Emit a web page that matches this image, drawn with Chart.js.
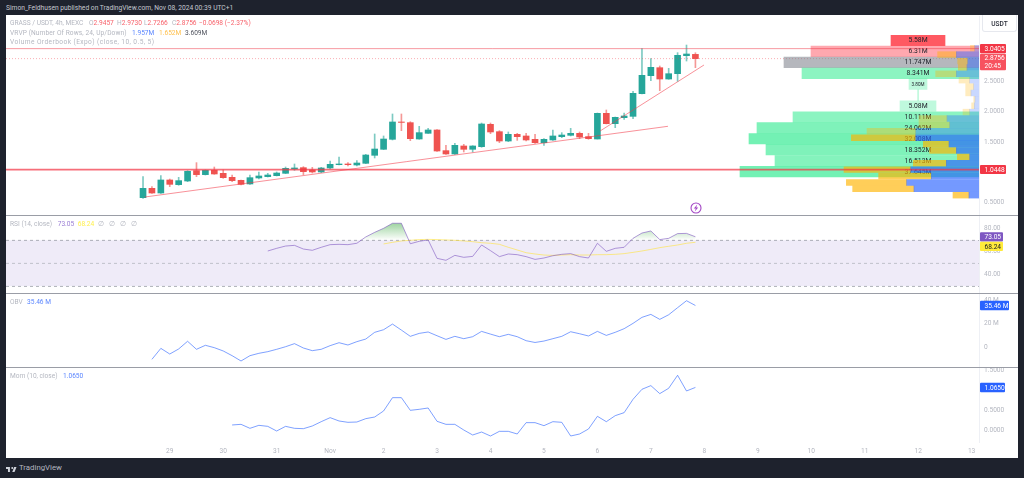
<!DOCTYPE html>
<html><head><meta charset="utf-8">
<script src="https://cdn.jsdelivr.net/npm/chart.js@4"></script>
<style>
html,body{margin:0;padding:0;width:1024px;height:478px;overflow:hidden;background:#1e222d;font-family:Roboto,"Liberation Sans",sans-serif}
#stage{position:absolute;left:0;top:0;width:1024px;height:478px;background:#1e222d;filter:blur(.28px)}
#panel{position:absolute;left:6px;top:15px;width:1012px;height:443px;background:#fff}
canvas{position:absolute}
.sep{position:absolute;left:6px;width:1012px;height:1px;background:#9a9da6}
.t{position:absolute;white-space:nowrap;font-size:6.6px;line-height:10px;height:10px;color:#b4b7c0}
.r{color:#f7626b}.b{color:#5b86ff}.y{color:#ffc04d}.d{color:#50535e}.p{color:#9a7ed4}.ye{color:#fff04d}
</style></head><body>
<div id="stage">
<div id="panel"></div>
<canvas id="cMain"></canvas><canvas id="cBook"></canvas><canvas id="cRsi"></canvas><canvas id="cObv"></canvas><canvas id="cMom"></canvas>
<div class="sep" style="top:215px"></div><div class="sep" style="top:293px"></div><div class="sep" style="top:367px"></div>
<div class="t" style="left:6px;top:3px;font-size:6.7px;color:#c4c7cf">Simon_Feldhusen published on TradingView.com, Nov 08, 2024 00:39 UTC+1</div>
<div class="t" style="left:10px;top:18px">GRASS / USDT, 4h, MEXC</div>
<div class="t" style="left:89px;top:18px">O<span class="r">2.9457</span></div>
<div class="t" style="left:117px;top:18px">H<span class="r">2.9730</span></div>
<div class="t" style="left:144px;top:18px">L<span class="r">2.7266</span></div>
<div class="t" style="left:172px;top:18px">C<span class="r">2.8756</span></div>
<div class="t r" style="left:199px;top:18px">−0.0698 (−2.37%)</div>
<div class="t" style="left:10px;top:27.6px;letter-spacing:.1px">VRVP (Number Of Rows, 24, Up/Down)</div>
<div class="t b" style="left:132px;top:27.6px">1.957M</div>
<div class="t y" style="left:159px;top:27.6px">1.652M</div>
<div class="t d" style="left:185px;top:27.6px">3.609M</div>
<div class="t" style="left:10px;top:37px;letter-spacing:.42px">Volume Orderbook (Expo) (close, 10, 0.5, 5)</div>
<div class="t" style="left:10px;top:219px">RSI (14, close)</div>
<div class="t p" style="left:57.7px;top:219px">73.05</div>
<div class="t ye" style="left:77.7px;top:219px">68.24</div>
<div class="t" style="left:98px;top:219px">∅</div><div class="t" style="left:109px;top:219px">∅</div><div class="t" style="left:120px;top:219px">∅</div><div class="t" style="left:131px;top:219px">∅</div>
<div class="t" style="left:10px;top:296.7px">OBV</div>
<div class="t b" style="left:27px;top:296.7px">35.46 M</div>
<div class="t" style="left:10px;top:371px">Mom (10, close)</div>
<div class="t b" style="left:63px;top:371px">1.0650</div>
<div style="position:absolute;left:982px;top:15px;width:33px;height:16px;border:1px solid #e6e8ee;border-top:none;border-radius:0 0 3px 3px;box-sizing:content-box"></div>
<div class="t" style="left:982px;width:35px;text-align:center;top:19px;color:#2a2e39;font-weight:500">USDT</div>
<svg style="position:absolute;left:689.7px;top:202px" width="12" height="12" viewBox="0 0 12 12"><circle cx="6" cy="6" r="5" fill="#fff" stroke="#a347c4" stroke-width="1.1"/><path d="M7.3 2.6 3.8 6.5h2L4.8 9.4l3.4-4H6.2z" fill="#a347c4"/></svg>
<svg style="position:absolute;left:6px;top:465.5px" width="10.5" height="7" viewBox="2 6 32 15"><path fill="#d1d4dc" d="M14 6H2v6h6v9h6V6Zm14 15h-7l6-15h7l-6 15Zm-7-9a3 3 0 1 0 0-6 3 3 0 0 0 0 6Z"/></svg>
<div class="t" style="left:19px;top:463px;font-size:7.8px;color:#b4b7c0">TradingView</div>
</div>
<script>
// ---- candles (4h), oldest first ----
const candleOpen=[0.581,0.735,0.658,0.873,0.796,0.856,1.027,0.961,1.032,0.983,0.917,0.867,0.807,0.906,0.928,0.944,0.983,1.054,1.076,1.038,1.005,1.071,1.126,1.137,1.120,1.148,1.280,1.379,1.544,1.830,1.819,1.549,1.643,1.698,1.357,1.302,1.434,1.379,1.423,1.791,1.670,1.516,1.626,1.599,1.544,1.489,1.533,1.588,1.610,1.643,1.588,1.549,1.973,1.802,1.901,1.923,2.297,2.594,2.726,2.539,2.627,2.924,2.9457];
const candleHigh=[0.928,0.763,0.944,0.889,0.917,1.027,1.159,1.038,1.087,1.038,0.955,0.873,0.955,1.005,0.983,1.005,1.087,1.137,1.093,1.082,1.082,1.186,1.252,1.159,1.192,1.296,1.632,1.599,1.962,1.962,1.835,1.758,1.725,1.703,1.445,1.478,1.461,1.439,1.813,1.813,1.687,1.665,1.643,1.643,1.626,1.555,1.698,1.654,1.725,1.665,1.643,1.978,2.028,1.912,1.978,2.336,3.040,2.875,2.754,2.715,2.974,3.100,2.9730];
const candleLow=[0.570,0.653,0.650,0.763,0.785,0.845,0.928,0.955,0.966,0.900,0.845,0.790,0.801,0.889,0.922,0.939,0.977,1.032,0.961,0.988,0.994,1.054,1.120,1.104,1.104,1.142,1.236,1.374,1.533,1.687,1.522,1.545,1.640,1.346,1.296,1.296,1.335,1.335,1.412,1.637,1.489,1.505,1.527,1.516,1.478,1.445,1.527,1.571,1.599,1.555,1.544,1.549,1.797,1.736,1.874,1.885,2.292,2.512,2.347,2.534,2.501,2.836,2.7266];
const candleClose=[0.735,0.658,0.873,0.801,0.862,1.016,0.961,1.032,0.972,0.911,0.862,0.801,0.911,0.939,0.955,0.988,1.065,1.071,1.010,1.005,1.071,1.131,1.137,1.126,1.153,1.285,1.384,1.549,1.830,1.823,1.555,1.654,1.698,1.351,1.302,1.445,1.379,1.434,1.797,1.665,1.516,1.626,1.588,1.533,1.489,1.544,1.599,1.615,1.643,1.582,1.555,1.973,1.802,1.907,1.929,2.303,2.600,2.732,2.539,2.627,2.930,2.952,2.8756];
// ---- indicators ----
const rsiStartIndex=14;
const rsiValues=[60.7,63,65,65.6,62.4,61.3,63.9,66.2,66.5,66.2,67.4,72.9,76.9,80.4,84.8,84.8,67,69.1,70.3,54.3,52.6,56.9,55.2,56,65.9,61,55.8,58.1,57.5,55.8,53.4,54.6,56.6,57.8,58.4,55.8,54.6,67.4,60.4,63,63.9,71.7,76.3,78.1,70.6,71.7,75.8,76,73.05];
const rsiMaStartIndex=27;
const rsiMaValues=[66.8,68.2,69.4,70,70.6,70.8,70.6,70.3,70,69.4,68.8,67.9,67.4,66.5,63.9,61.6,59.2,58.1,57.2,56.9,57.2,57.5,57.2,57.2,57.5,57.5,57.8,58.4,59.5,60.7,62.1,63.6,64.8,65.9,67.4,68.24];
const obvStartIndex=1;
const obvValues=[-10.2,-0.9,-5.7,-1.4,5.1,-1.7,1.7,-0.3,-3.1,-7.1,-11.6,-7.1,-5.1,-3.7,-1.7,0.5,3.1,-0.6,-2.85,-1.7,1.4,3.9,1.95,4.8,7,12.7,14.9,19.7,14.6,9.3,11.8,13,9.8,6.7,9.3,7.3,9,13.5,11.2,9,11,9,5.6,4.1,5.3,7.3,9.3,13.2,11.5,9.6,13.5,10.1,12.7,15.8,20.3,25.4,27.9,23.7,27.6,33.6,39.5,35.46];
const momStartIndex=10;
const momValues=[0.132,0.148,0.049,0.123,0.098,-0.018,0.098,0.049,0.040,0.107,0.214,0.314,0.231,0.198,0.206,0.289,0.330,0.480,0.811,0.811,0.496,0.521,0.554,0.223,0.148,0.148,0.007,-0.117,-0.043,-0.142,-0.026,-0.026,-0.092,0.190,0.190,0.115,0.214,0.198,-0.142,-0.092,0.032,0.347,0.214,0.364,0.438,0.770,1.019,1.110,0.911,1.044,1.367,0.977,1.065];
// ---- drawings ----
const trendOne=[[0.2,0.592],[58.92,1.759]];
const trendTwo=[[51.3,1.681],[62.96,2.770]];
const levelHigh=3.0405, levelLast=2.8756, levelLow=1.0448;
// ---- axes ----
const dayTickIndex=[3,9,15,21,27,33,39,45,51,57,63,69,75,81,87,93];
const dayTickLabels=['29','30','31','Nov','2','3','4','5','6','7','8','9','10','11','12','13'];
const priceTicks=[0.5,1.5,2,2.5], rsiTicks=[40,60,80], obvTicks=[0,20,40], momTicks=[0,0.5,1.5];
// ---- volume profile rows ----
const vrvpPrice=[3.047,2.942,2.836,2.731,2.625,2.520,2.414,2.309,2.204,2.098,1.993,1.887,1.782,1.676,1.571,1.466,1.360,1.255,1.149,1.044,0.938,0.833,0.727,0.622];
const vrvpUp=[1.08,5.67,2.83,3.0,5.67,2.33,1.33,2.0,1.0,1.17,2.33,8.0,7.33,15.83,15.83,7.5,5.67,2.33,8.17,17.08,11.92,18.08,16.25,2.5];
const vrvpDown=[1.08,4.67,2.5,2.17,5.17,2.67,2.0,1.33,0.33,0.67,1.67,7.0,7.67,12.17,16.08,6.42,6.67,3.08,8.25,16.67,13.17,15.08,15.33,4.0];
const vrvpStrength=[.3,.45,.45,.45,.35,.25,.25,.25,.25,.25,.25,.35,.35,.35,.65,.65,.65,.65,.65,.65,.65,.65,.65,.65];
// ---- order book rows ----
const bookPrice=[3.175,2.995,2.815,2.633,2.454,2.274,2.094,1.912,1.732,1.553,1.373,1.191,1.011];
const bookLabels=['5.58M','6.31M','11.747M','8.341M','3.80M','','5.08M','10.111M','24.062M','32.008M','18.352M','16.513M','37.645M'];
const bookStart=[8.5,0,0,0,13,15.1,10.75,0,0,0,0,0,0];
const bookEnd=[22,42,48.75,44.25,17.5,15.35,19.75,46.5,55.5,57.5,53.25,51,59.75];
const bookColors=['rgba(255,60,70,.85)','rgba(255,82,96,.5)','rgba(120,123,134,.55)','rgba(0,230,118,.45)','rgba(0,230,118,.25)','rgba(0,230,118,.25)','rgba(0,230,118,.25)','rgba(0,230,118,.45)','rgba(0,230,118,.5)','rgba(0,230,118,.55)','rgba(0,230,118,.5)','rgba(0,230,118,.48)','rgba(0,230,118,.55)'];

const XMIN=-15.38,XMAX=93.83,GREEN='#26a69a',RED='#ef5350';
const FONT='Roboto,"Liberation Sans",sans-serif';
function place(id,l,t,w,h){const c=document.getElementById(id);c.width=w;c.height=h;c.style.left=l+'px';c.style.top=t+'px';c.style.width=w+'px';c.style.height=h+'px';return c;}
function points(start,arr){return arr.map((v,i)=>({x:start+i,y:v}));}
function yAxis(min,max,ticks,fmt){return {type:'linear',position:'right',min,max,
  afterBuildTicks:s=>{s.ticks=ticks.map(v=>({value:v}));},
  afterFit:s=>{s.width=39;s.paddingTop=0;s.paddingBottom=0;},
  grid:{display:false,drawTicks:false},border:{display:true,color:'#eef0f5'},
  ticks:{padding:5,color:'#b4b7c0',font:{family:FONT,size:6.6},callback:fmt}};}
function xHidden(){return {type:'linear',offset:false,min:XMIN,max:XMAX,display:false};}
function base(scales,extra){return Object.assign({responsive:false,animation:false,devicePixelRatio:1,layout:{padding:0},events:[],
  plugins:{legend:{display:false},tooltip:{enabled:false}},scales},extra||{});}
function box(ctx,x,y,w,h,bg,fg,lines){ctx.save();ctx.fillStyle=bg;ctx.beginPath();ctx.roundRect(x,y,w,h,1);ctx.fill();ctx.fillStyle=fg;ctx.font='6.6px '+FONT;ctx.textAlign='left';ctx.textBaseline='middle';
  lines.forEach((s,i)=>ctx.fillText(s,x+4.5,y+h/(lines.length*2)*(2*i+1)+.5));ctx.restore();}
function line(data,color,width,dash){return {type:'line',data:data.map(p=>({x:p[0],y:p[1]})),borderColor:color,borderWidth:width,borderDash:dash||[],pointRadius:0,fill:false,tension:0,order:0};}

// main price pane
place('cMain',6,16,1012,199);
new Chart('cMain',{type:'bar',data:{datasets:[
  line(trendOne,'rgba(242,54,69,.55)',1),
  line(trendTwo,'rgba(242,54,69,.55)',1),
  line([[XMIN,levelLast],[XMAX,levelLast]],'rgba(242,54,69,.5)',.8,[1,2]),
  {label:'body',data:candleOpen.map((o,i)=>({x:i,y:[o,candleClose[i]]})),backgroundColor:candleOpen.map((o,i)=>candleClose[i]>=o?GREEN:RED),barThickness:6,grouped:false,order:1},
  {label:'wick',data:candleLow.map((l,i)=>({x:i,y:[l,candleHigh[i]]})),backgroundColor:candleOpen.map((o,i)=>candleClose[i]>=o?'rgba(38,166,154,.6)':'rgba(239,83,80,.6)'),barThickness:1,grouped:false,order:2}
]},options:base({x:xHidden(),y:yAxis(0.295,3.579,priceTicks,v=>v.toFixed(4))}),
plugins:[{id:'boxes',afterDraw(ch){const c=ch.ctx,s=ch.scales.y,x=ch.chartArea.right+1;
  box(c,x,s.getPixelForValue(levelHigh)-4.6,26,9.2,'#f23645','#fff',[levelHigh.toFixed(4)]);
  box(c,x,s.getPixelForValue(levelLast)-4.9,26,16.6,'#f7525f','#fff',[levelLast.toFixed(4),'20:45']);
  box(c,x,s.getPixelForValue(levelLow)-4.5,26,9,'#f23645','#fff',[levelLow.toFixed(4)]);}}]});

// volume profile + order book overlay
place('cBook',6,16,973,199);
new Chart('cBook',{type:'bar',data:{datasets:[
  {type:'line',data:[{x:0,y:levelHigh},{x:243.25,y:levelHigh}],indexAxis:'y',borderColor:'rgba(242,54,69,.5)',borderWidth:1,pointRadius:0,fill:false,order:0},
  {type:'line',data:[{x:0,y:levelLow},{x:243.25,y:levelLow}],indexAxis:'y',borderColor:'rgba(242,54,69,.72)',borderWidth:1.8,pointRadius:0,fill:false,order:0},
  {label:'up',data:vrvpPrice.map((p,i)=>({y:p,x:[0,vrvpUp[i]]})),backgroundColor:vrvpStrength.map(a=>`rgba(41,98,255,${a})`),barThickness:5.8,grouped:false,order:1},
  {label:'down',data:vrvpPrice.map((p,i)=>({y:p,x:[vrvpUp[i],vrvpUp[i]+vrvpDown[i]]})),backgroundColor:vrvpStrength.map(a=>`rgba(255,180,0,${a})`),barThickness:5.8,grouped:false,order:1},
  {label:'book',data:bookPrice.map((p,i)=>({y:p,x:[bookStart[i],bookEnd[i]]})),backgroundColor:bookColors,barThickness:10.5,grouped:false,order:3}
]},options:base({x:{type:'linear',offset:false,reverse:true,min:0,max:243.25,display:false},y:{type:'linear',offset:false,min:0.295,max:3.579,display:false}},{indexAxis:'y'}),
plugins:[{id:'bookLabels',afterDatasetDraw(ch,a){if(ch.data.datasets[a.index].label!=='book')return;const c=ch.ctx;c.save();c.fillStyle='#20232c';c.textAlign='center';c.textBaseline='middle';
  bookLabels.forEach((t,i)=>{if(!t)return;c.font=(t==='3.80M'?'4.6px ':'6.8px ')+FONT;c.fillText(t,ch.scales.x.getPixelForValue(15.25),ch.scales.y.getPixelForValue(bookPrice[i])+.3);});c.restore();}}]});

// RSI
place('cRsi',6,216,1012,77);
new Chart('cRsi',{type:'line',data:{datasets:[
  {data:[{x:XMIN,y:70},{x:XMAX,y:70}],borderColor:'#9a9da6',borderWidth:.8,borderDash:[3,3],pointRadius:0,fill:{target:{value:30},above:'rgba(126,87,194,.12)',below:'rgba(0,0,0,0)'},order:5},
  {data:[{x:XMIN,y:50},{x:XMAX,y:50}],borderColor:'#b4b7c0',borderWidth:.8,borderDash:[3,3],pointRadius:0,fill:false,order:4},
  {data:[{x:XMIN,y:30},{x:XMAX,y:30}],borderColor:'#9a9da6',borderWidth:.8,borderDash:[3,3],pointRadius:0,fill:false,order:4},
  {data:points(rsiMaStartIndex,rsiMaValues),borderColor:'rgba(255,226,60,.6)',borderWidth:1,pointRadius:0,tension:0,fill:false,order:2},
  {data:points(rsiStartIndex,rsiValues),borderColor:'rgba(126,87,194,.6)',borderWidth:1,pointRadius:0,tension:0,order:1,
   fill:{target:{value:70},below:'rgba(0,0,0,0)',above(c){const s=c.chart.scales.y;if(!s)return 'rgba(76,175,80,.3)';const g=c.chart.ctx.createLinearGradient(0,s.getPixelForValue(85),0,s.getPixelForValue(70));g.addColorStop(0,'rgba(76,175,80,.55)');g.addColorStop(1,'rgba(76,175,80,0)');return g;}}}
]},options:base({x:xHidden(),y:yAxis(24.2,91.1,rsiTicks,v=>v.toFixed(2))}),
plugins:[{id:'boxes',afterDraw(ch){const c=ch.ctx,s=ch.scales.y,x=ch.chartArea.right+1;
  const y1=s.getPixelForValue(rsiValues[rsiValues.length-1])-4.6;
  box(c,x,y1,23,9.2,'#7e57c2','#fff',['73.05']);
  box(c,x,y1+9.6,23,9.2,'#ffeb3b','#131722',['68.24']);}}]});

// OBV
place('cObv',6,294,1012,73);
new Chart('cObv',{type:'line',data:{datasets:[
  {data:points(obvStartIndex,obvValues),borderColor:'rgba(41,98,255,.6)',borderWidth:1,pointRadius:0,tension:0,fill:false}
]},options:base({x:xHidden(),y:yAxis(-16.7,45.2,obvTicks,v=>v===0?'0':v+' M')}),
plugins:[{id:'boxes',afterDraw(ch){const s=ch.scales.y;box(ch.ctx,ch.chartArea.right+1,s.getPixelForValue(obvValues[obvValues.length-1])-4.7,29,9.4,'#2962ff','#fff',['35.46 M']);}}]});

// Momentum
place('cMom',6,368,1012,90);
new Chart('cMom',{type:'line',data:{datasets:[
  {data:points(momStartIndex,momValues),borderColor:'rgba(41,98,255,.6)',borderWidth:1,pointRadius:0,tension:0,fill:false}
]},options:base({x:{type:'linear',offset:false,min:XMIN,max:XMAX,
    afterBuildTicks:s=>{s.ticks=dayTickIndex.map(v=>({value:v}));},
    afterFit:s=>{s.height=16;s.paddingLeft=0;s.paddingRight=0;},
    grid:{display:false,drawTicks:false},border:{display:false},
    ticks:{autoSkip:false,maxRotation:0,padding:5,color:'#b4b7c0',font:{family:FONT,size:6.6},callback:v=>dayTickLabels[dayTickIndex.indexOf(v)]}},
  y:yAxis(-0.291,1.548,momTicks,v=>v.toFixed(4))}),
plugins:[{id:'boxes',afterDraw(ch){const s=ch.scales.y;box(ch.ctx,ch.chartArea.right+1,s.getPixelForValue(momValues[momValues.length-1])-4.7,25,9.4,'#2962ff','#fff',['1.0650']);}}]});
</script>
</body></html>
